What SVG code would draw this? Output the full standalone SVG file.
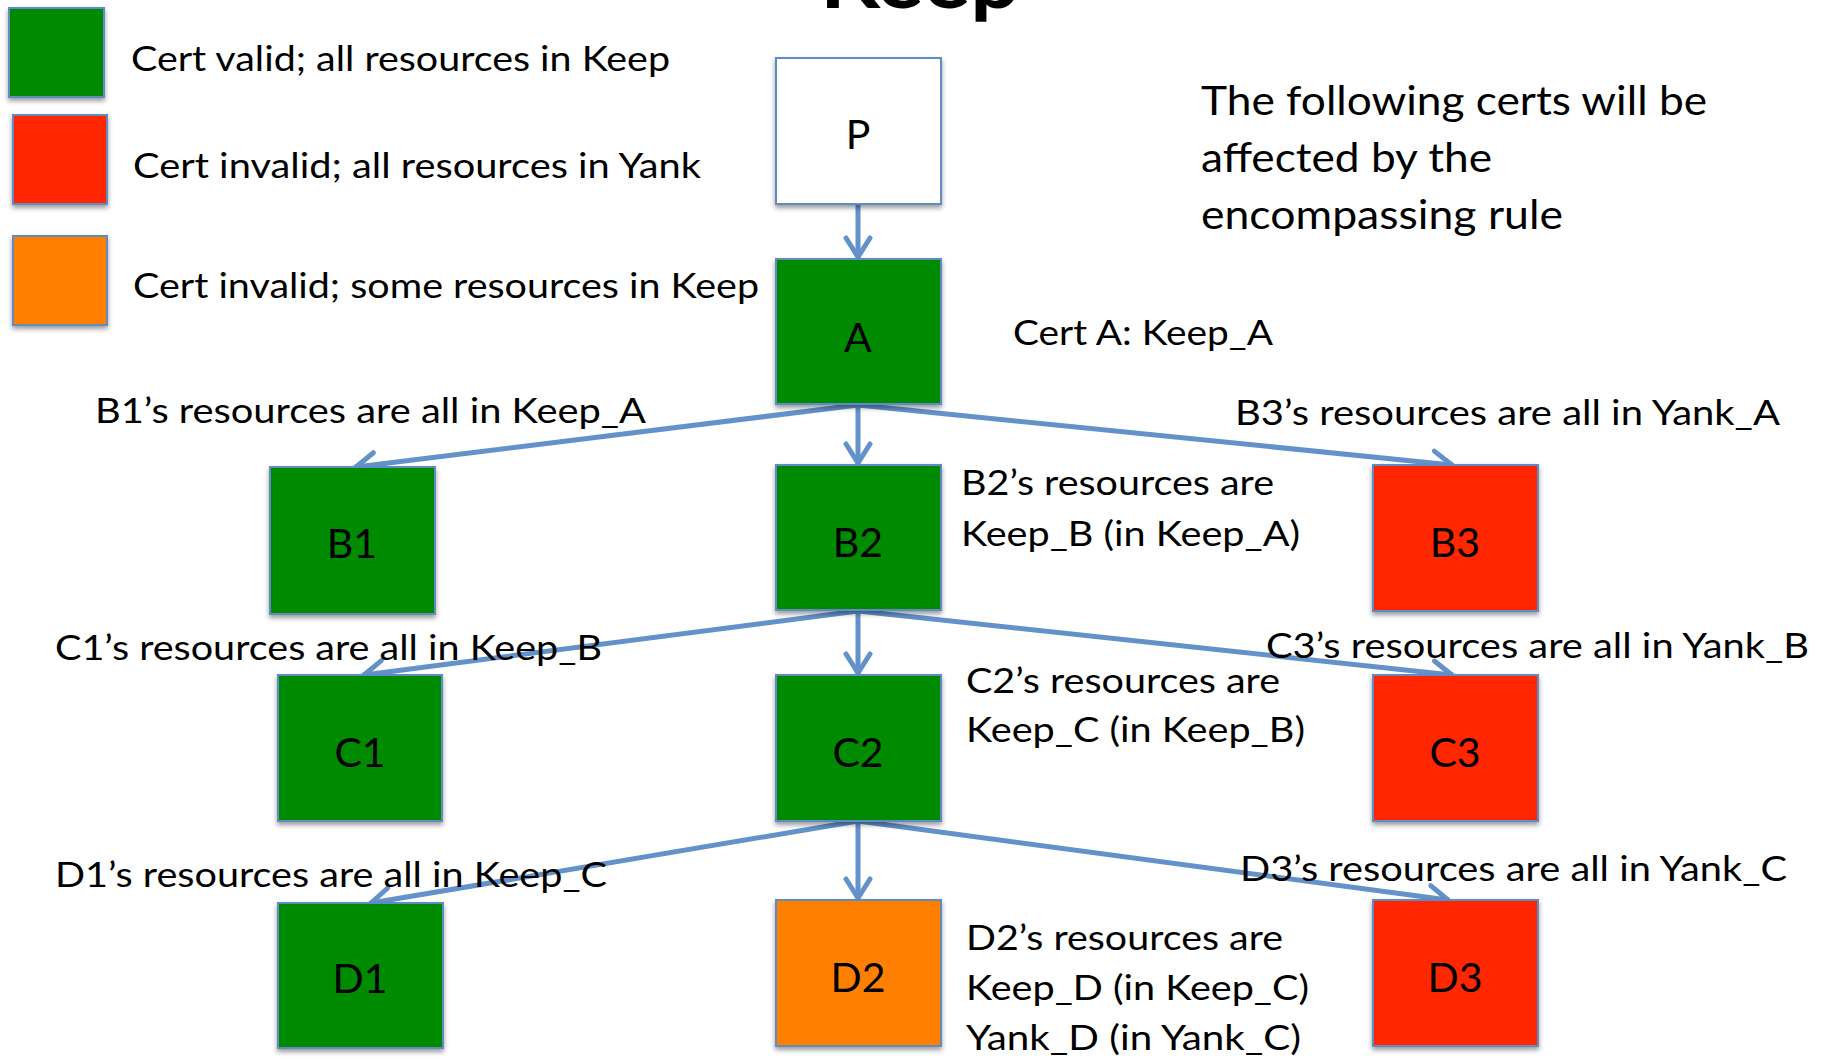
<svg xmlns="http://www.w3.org/2000/svg" width="1829" height="1063" viewBox="0 0 1829 1063">
<defs>
<filter id="sh" x="-20%" y="-20%" width="140%" height="150%">
<feDropShadow dx="0" dy="3" stdDeviation="2.5" flood-color="#000" flood-opacity="0.4"/>
</filter>
<marker id="ah" markerUnits="userSpaceOnUse" viewBox="-26 -18 32 36" refX="0" refY="0" markerWidth="32" markerHeight="36" orient="auto" overflow="visible">
<path d="M -19 -12 L 0 0 L -19 12" fill="none" stroke="#6392CB" stroke-width="5" stroke-linecap="round" stroke-linejoin="round"/>
</marker>
<style>
text{font-family:Lato,"Open Sans","Liberation Sans",sans-serif;fill:#000}
.lbl{font-size:34px}
.big{font-size:40px}
.nl{font-size:41px;text-anchor:middle}
.title{font-size:80px;font-weight:bold}
.box{stroke:#5E8CC6;stroke-width:2;filter:url(#sh)}
.g{fill:#008A00}
.r{fill:#FF2800}
.o{fill:#FF7F00}
.w{fill:#FFFFFF}
.cn{fill:none;stroke:#6392CB;stroke-width:5;stroke-linecap:round;marker-end:url(#ah)}
</style>
</defs>
<rect width="1829" height="1063" fill="#fff"/>
<text class="title" x="820" y="8" textLength="200" lengthAdjust="spacingAndGlyphs">Keep</text>

<g id="legend">
<rect class="box g" x="9" y="8" width="95" height="89"/>
<rect class="box r" x="13" y="115" width="94" height="89"/>
<rect class="box o" x="13" y="236" width="94" height="89"/>
<text class="lbl" x="131" y="71" textLength="539" lengthAdjust="spacingAndGlyphs">Cert valid; all resources in Keep</text>
<text class="lbl" x="133" y="178" textLength="568" lengthAdjust="spacingAndGlyphs">Cert invalid; all resources in Yank</text>
<text class="lbl" x="133" y="298" textLength="626" lengthAdjust="spacingAndGlyphs">Cert invalid; some resources in Keep</text>
</g>

<g id="note">
<text class="big" x="1201" y="115" textLength="506" lengthAdjust="spacingAndGlyphs">The following certs will be</text>
<text class="big" x="1201" y="172" textLength="291" lengthAdjust="spacingAndGlyphs">affected by the</text>
<text class="big" x="1201" y="229" textLength="362" lengthAdjust="spacingAndGlyphs">encompassing rule</text>
</g>

<g id="connectors">
<line class="cn" x1="858" y1="205" x2="858" y2="257"/>
<line class="cn" x1="858" y1="405" x2="356" y2="467"/>
<line class="cn" x1="858" y1="405" x2="858" y2="463"/>
<line class="cn" x1="858" y1="405" x2="1452" y2="465"/>
<line class="cn" x1="858" y1="611" x2="364" y2="675"/>
<line class="cn" x1="858" y1="611" x2="858" y2="673"/>
<line class="cn" x1="858" y1="611" x2="1452" y2="675"/>
<line class="cn" x1="858" y1="821" x2="371" y2="903"/>
<line class="cn" x1="858" y1="821" x2="858" y2="898"/>
<line class="cn" x1="858" y1="821" x2="1448" y2="900"/>
</g>

<g id="node-P"><rect class="box w" x="776" y="58" width="165" height="146"/><text class="nl" x="858" y="149">P</text></g>
<g id="node-A"><rect class="box g" x="776" y="259" width="165" height="145"/><text class="nl" x="858" y="352">A</text></g>
<g id="node-B1"><rect class="box g" x="270" y="467" width="165" height="147"/><text class="nl" x="352" y="558">B1</text></g>
<g id="node-B2"><rect class="box g" x="776" y="465" width="165" height="145"/><text class="nl" x="858" y="557">B2</text></g>
<g id="node-B3"><rect class="box r" x="1373" y="465" width="165" height="146"/><text class="nl" x="1455" y="557">B3</text></g>
<g id="node-C1"><rect class="box g" x="278" y="675" width="164" height="146"/><text class="nl" x="360" y="767">C1</text></g>
<g id="node-C2"><rect class="box g" x="776" y="675" width="165" height="146"/><text class="nl" x="858" y="767">C2</text></g>
<g id="node-C3"><rect class="box r" x="1373" y="675" width="165" height="146"/><text class="nl" x="1455" y="767">C3</text></g>
<g id="node-D1"><rect class="box g" x="278" y="903" width="165" height="145"/><text class="nl" x="360" y="993">D1</text></g>
<g id="node-D2"><rect class="box o" x="776" y="900" width="165" height="146"/><text class="nl" x="858" y="992">D2</text></g>
<g id="node-D3"><rect class="box r" x="1373" y="900" width="165" height="146"/><text class="nl" x="1455" y="992">D3</text></g>

<g id="labels">
<text class="lbl" x="1013" y="345" textLength="260" lengthAdjust="spacingAndGlyphs">Cert A: Keep_A</text>
<text class="lbl" x="95" y="423" textLength="551" lengthAdjust="spacingAndGlyphs">B1’s resources are all in Keep_A</text>
<text class="lbl" x="1235" y="425" textLength="545" lengthAdjust="spacingAndGlyphs">B3’s resources are all in Yank_A</text>
<text class="lbl" x="961" y="495" textLength="313" lengthAdjust="spacingAndGlyphs">B2’s resources are</text>
<text class="lbl" x="961" y="546" textLength="339" lengthAdjust="spacingAndGlyphs">Keep_B (in Keep_A)</text>
<text class="lbl" x="55" y="660" textLength="547" lengthAdjust="spacingAndGlyphs">C1’s resources are all in Keep_B</text>
<text class="lbl" x="1266" y="658" textLength="543" lengthAdjust="spacingAndGlyphs">C3’s resources are all in Yank_B</text>
<text class="lbl" x="966" y="693" textLength="314" lengthAdjust="spacingAndGlyphs">C2’s resources are</text>
<text class="lbl" x="966" y="742" textLength="339" lengthAdjust="spacingAndGlyphs">Keep_C (in Keep_B)</text>
<text class="lbl" x="55" y="887" textLength="552" lengthAdjust="spacingAndGlyphs">D1’s resources are all in Keep_C</text>
<text class="lbl" x="1240" y="881" textLength="547" lengthAdjust="spacingAndGlyphs">D3’s resources are all in Yank_C</text>
<text class="lbl" x="966" y="950" textLength="317" lengthAdjust="spacingAndGlyphs">D2’s resources are</text>
<text class="lbl" x="966" y="1000" textLength="343" lengthAdjust="spacingAndGlyphs">Keep_D (in Keep_C)</text>
<text class="lbl" x="966" y="1050" textLength="335" lengthAdjust="spacingAndGlyphs">Yank_D (in Yank_C)</text>
</g>
</svg>
